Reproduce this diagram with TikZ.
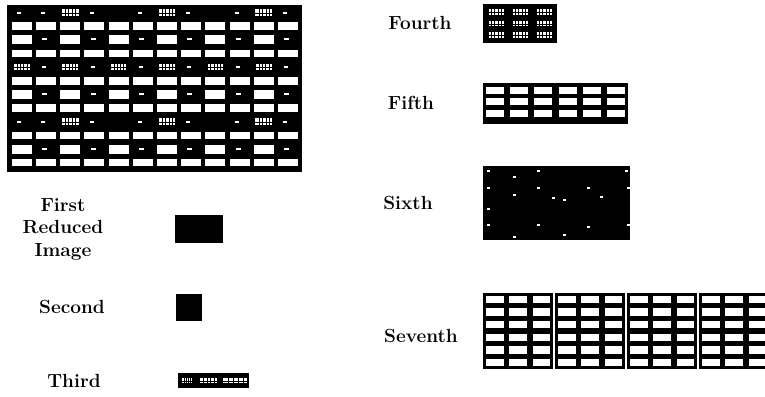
\documentclass[tikz,border=0pt]{standalone}
\usetikzlibrary{positioning}
\tikzset{
  lbl/.style={font=\fontsize{19}{22.5}\selectfont\bfseries, align=center},
  scrawl/.pic={
    \fill[white] (-6,-3) rectangle (6,3);
    \foreach \k in {-3.5,-1,1.5,4} \draw[black,line width=0.6pt] (\k,-3) -- (\k,3);
    \draw[black,line width=0.4pt] (-6,0.6) -- (6,0.6);
  }
}

\begin{document}
\begin{tikzpicture}[x=1pt,y=-1pt]
 \clip (0,0) rectangle (765,396);
 \fill[white] (0,0) rectangle (765,396);
 % original image
 \fill[black] (7,5) rectangle (302,172);
 \foreach \j in {1,3,5,7,9,11} \foreach \i in {0,...,11}
   \fill[white] (11.7+24.2*\i,8.75+13.65*\j) rectangle ++(20,7.5);
 \foreach \j in {2,6,10} {
   \foreach \i in {0,2,...,10} \fill[white] (11.7+24.2*\i,8+13.65*\j) rectangle ++(20,9);
   \foreach \i in {1,3,...,11} \fill[white] (18+24.2*\i,11+13.65*\j) rectangle ++(5,2);
 }
 \foreach \j in {0,8} {
   \foreach \i in {2,6,10} \pic[xscale=1.4,yscale=1.1] at (21.7+24.2*\i,12.5+13.65*\j) {scrawl};
   \foreach \i in {0,1,3,5,7,9,11} \fill[white] (17+24.2*\i,12+13.65*\j) rectangle ++(4,2);
 }
 \foreach \i in {0,2,4,6,8,10} \pic[xscale=1.3,yscale=1.0] at (21.7+24.2*\i,67) {scrawl};
 \foreach \i in {1,3,5,7,9,11} \fill[white] (18+24.2*\i,66) rectangle ++(4,2);

 % reduced images, left column
 \node[lbl] (first) at (63,229) {First\\Reduced\\Image};
 \fill[black] (175,215) rectangle (223,243);
 \node[lbl] (second) at (72,307) {Second};
 \fill[black] (176,294) rectangle (202,321);
 \node[lbl] (third) at (74,381) {Third};
 \fill[black] (178,373) rectangle (249,388);
 \pic[xscale=0.85,yscale=0.8] at (187,380.5) {scrawl};
 \pic[xscale=1.4,yscale=0.8] at (208.5,380.5) {scrawl};
 \pic[xscale=2.0,yscale=0.8] at (235,380.5) {scrawl};

 % right column
 \node[lbl] (fourth) at (420,23) {Fourth};
 \fill[black] (483,4) rectangle (557,43);
 \foreach \x in {496,520,544} \foreach \y in {12,23.5,35}
   \pic[xscale=1.25,yscale=0.9] at (\x,\y) {scrawl};

 \node[lbl] (fifth) at (411,103) {Fifth};
 \fill[black] (483,83) rectangle (628,124);
 \foreach \i in {0,...,5} \foreach \y in {86.5,98.2,109.8}
   \fill[white] (486+24.17*\i,\y) rectangle ++(18,7);

 \node[lbl] (sixth) at (408,203) {Sixth};
 \fill[black] (483,166) rectangle (630,240);
 \foreach \x/\y in {487/170,513/176,537/170,625/170,487/187,537/187,587/187,627/187,
                    513/194,552/197,563/199,600/196,487/208,487/224,537/224,587/226,627/224,513/236,563/234}
   \fill[white] (\x,\y) rectangle ++(3,2);

 \node[lbl] (seventh) at (421,336) {Seventh};
 \foreach \b in {0,...,3} {
   \fill[black] (483+72*\b,293) rectangle ++(70,76);
   \foreach \i in {0,1,2} \foreach \j in {0,...,5}
     \fill[white] (483+72*\b+23.33*\i+3,293+12.67*\j+2.6) rectangle ++(17.8,7.5);
 }
\end{tikzpicture}
\end{document}
